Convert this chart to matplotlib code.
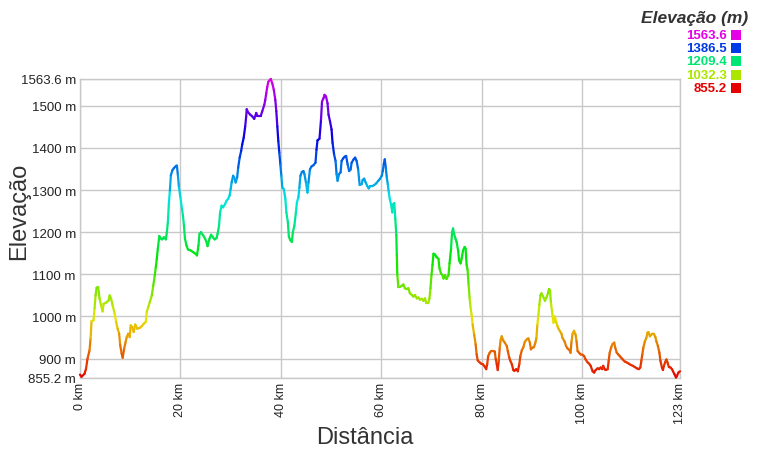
import matplotlib
matplotlib.use("Agg")
import matplotlib.pyplot as plt
import numpy as np
from matplotlib.collections import LineCollection
from matplotlib.colors import hsv_to_rgb

plt.rcParams['font.family'] = ['Liberation Sans', 'DejaVu Sans']

# ---- data (distance in km, elevation in m) ----
dist_km = [0, 0.3, 0.9, 1.2, 1.5, 1.9, 2.1, 2.3, 2.7, 2.9, 3.1, 3.3, 3.6, 3.9, 4.2, 4.5, 4.7, 5.2, 5.7, 5.9,
           6.2, 6.5, 6.9, 7.2, 7.5, 7.8, 8.0, 8.3, 8.5, 8.8, 9.1, 9.3, 9.6, 9.9, 10.1, 10.4, 10.7, 11.0, 11.4, 11.9,
           12.3, 12.7, 13.1, 13.3, 13.6, 13.9, 14.3, 14.6, 14.9, 15.1, 15.3, 15.5, 15.8, 16.1, 16.4, 16.7, 17.1, 17.3, 17.5, 17.7,
           17.9, 18.1, 18.4, 18.7, 19.1, 19.3, 19.5, 19.7, 20.0, 20.3, 20.5, 20.7, 20.9, 21.2, 21.5, 22.0, 22.5, 23.0, 23.3,
           23.6, 23.8, 24.1, 24.5, 24.9, 25.2, 25.4, 25.8, 26.1, 26.4, 26.8, 27.2, 27.4, 27.7, 27.9, 28.2, 28.5, 28.9, 29.2, 29.5,
           29.8, 30.0, 30.2, 30.5, 30.7, 31.0, 31.3, 31.5, 31.8, 32.1, 32.3, 32.6, 32.9, 33.1, 33.2, 33.5, 33.9, 34.3, 34.7, 35.1,
           35.3, 35.7, 36.0, 36.3, 36.7, 36.9, 37.1, 37.3, 37.5, 37.8, 38.0, 38.3, 38.6, 38.9, 39.1, 39.3, 39.5, 39.7, 39.9, 40.1,
           40.3, 40.6, 40.9, 41.1, 41.4, 41.6, 41.9, 42.2, 42.4, 42.7, 43.0, 43.2, 43.5, 43.7, 43.9, 44.2, 44.5, 44.7, 45.0, 45.3,
           45.5, 45.8, 46.1, 46.5, 46.9,
           47.1, 47.3, 47.7, 48.0, 48.2, 48.5, 48.7, 49.0, 49.3, 49.5, 49.8, 50.1, 50.3, 50.6, 50.9, 51.1, 51.3, 51.6, 51.9, 52.1,
           52.4, 52.7, 53.0, 53.3, 53.6, 53.9, 54.1, 54.5, 54.8, 55.1, 55.4, 55.7, 56.1, 56.3, 56.6, 56.9, 57.2, 57.5, 57.8, 58.2,
           58.6, 59.0, 59.4, 59.7, 60.1, 60.3, 60.5, 60.7, 60.9, 61.1, 61.3, 61.5, 61.7, 62.0, 62.2, 62.4, 62.6, 62.8, 63.0, 63.1,
           63.2, 63.4, 63.8, 64.1, 64.4, 64.7, 65.1, 65.4, 65.7, 66.1, 66.4, 66.7, 67.1, 67.4, 67.7, 68.1, 68.4, 68.7, 69.0, 69.4,
           69.6, 69.8, 70.0, 70.2, 70.4, 70.7,
           71.0, 71.4, 71.6, 71.9, 72.2, 72.4, 72.7, 73.0, 73.4, 73.6, 73.9, 74.1, 74.3, 74.5, 74.8, 75.0, 75.3, 75.5, 75.8, 76.0,
           76.3, 76.6, 76.8, 77.0, 77.2, 77.4, 77.6, 77.8, 78.0, 78.2, 78.5, 78.8, 79.0, 79.2, 79.6, 79.9, 80.2, 80.5, 80.9, 81.1,
           81.3, 81.6, 81.9, 82.3, 82.6, 82.8, 83.0, 83.2, 83.4, 83.6, 83.8, 84.0, 84.3, 84.6, 85.0, 85.2, 85.5, 85.7, 86.0, 86.3,
           86.5, 86.9, 87.2, 87.5, 87.7, 88.0, 88.3, 88.6, 89.0, 89.3, 89.6, 89.8, 90.1, 90.4, 90.7, 90.9, 91.1, 91.3, 91.5, 91.7,
           91.9, 92.1, 92.4, 92.6, 92.9, 93.2, 93.4, 93.6, 93.8, 94.1, 94.3,
           94.6, 94.8, 95.1, 95.3, 95.6, 95.9, 96.1, 96.5, 96.8, 97.1, 97.5, 97.7, 97.9, 98.1, 98.4, 98.7, 98.9, 99.1, 99.4, 99.7,
           100.1, 100.4, 100.7, 101.1, 101.4, 101.7, 102.1, 102.4, 102.7, 103.1, 103.4, 103.7, 104.0, 104.2, 104.5, 104.7, 105.1, 105.3, 105.5, 105.8,
           106.1, 106.4, 106.6, 106.9, 107.2, 107.5, 107.8, 108.1, 108.5, 108.9, 109.3, 109.7, 110.1, 110.5, 110.9, 111.3, 111.6, 111.8, 112.0, 112.2,
           112.5, 112.8, 113.0, 113.2, 113.5, 113.8, 114.0, 114.3, 114.6, 114.8, 115.1, 115.4, 115.6, 115.9, 116.1, 116.3, 116.6, 116.8, 117.0, 117.3,
           117.6, 117.9, 118.1, 118.4, 118.7, 118.9, 119.2, 119.5]

elev_m = [862, 857, 864, 876, 900, 920, 947, 989, 991, 1019, 1050, 1068, 1070, 1042, 1026, 1012, 1030, 1033, 1038, 1050,
          1042, 1026, 1007, 987, 971, 959, 932, 912, 902, 924, 940, 951, 959, 951, 979, 975, 963, 981, 971, 973,
          977, 983, 987, 1011, 1023, 1034, 1050, 1074, 1098, 1117, 1137, 1161, 1191, 1185, 1183, 1188, 1183, 1200, 1224, 1268,
          1299, 1335, 1347, 1352, 1357, 1358, 1335, 1307, 1283, 1256, 1240, 1216, 1185, 1169, 1159, 1157, 1153, 1149, 1145,
          1169, 1196, 1200, 1193, 1185, 1177, 1167, 1185, 1194, 1189, 1183, 1186, 1196, 1216, 1247, 1263, 1259, 1267, 1275, 1279,
          1287, 1302, 1318, 1334, 1330, 1318, 1330, 1353, 1377, 1393, 1408, 1424, 1451, 1475, 1492, 1484, 1479, 1475, 1469, 1483,
          1476, 1476, 1476, 1487, 1502, 1514, 1530, 1545, 1557, 1561, 1563.6, 1553, 1538, 1514, 1487, 1451, 1416, 1389, 1361, 1334,
          1306, 1302, 1279, 1247, 1224, 1189, 1181, 1177, 1200, 1216, 1247, 1271, 1283, 1306, 1334, 1343, 1345, 1338, 1318, 1294,
          1318, 1349, 1356, 1359, 1365,
          1396, 1418, 1422, 1467, 1510, 1518, 1526, 1522, 1506, 1479, 1463, 1444, 1412, 1385, 1369, 1338, 1322, 1338, 1342, 1369,
          1375, 1379, 1381, 1361, 1345, 1349, 1365, 1373, 1377, 1369, 1349, 1312, 1314, 1324, 1327, 1318, 1310, 1304, 1309, 1309,
          1312, 1316, 1322, 1326, 1334, 1345, 1361, 1373, 1353, 1330, 1314, 1295, 1279, 1263, 1247, 1267, 1269, 1232, 1193, 1145,
          1098, 1071, 1071, 1073, 1076, 1067, 1065, 1067, 1055, 1051, 1047, 1051, 1043, 1045, 1040, 1042, 1037, 1043, 1032, 1032,
          1043, 1067, 1098, 1122, 1149, 1147,
          1141, 1137, 1114, 1102, 1098, 1090, 1098, 1089, 1098, 1126, 1161, 1200, 1209, 1196, 1184, 1177, 1157, 1133, 1126, 1137,
          1157, 1165, 1161, 1122, 1110, 1075, 1043, 1020, 1004, 981, 957, 934, 910, 896, 891, 888, 887, 883, 875, 887,
          906, 914, 918, 918, 917, 899, 887, 873, 895, 926, 946, 953, 943, 938, 930, 918, 902, 895, 887, 873,
          871, 875, 870, 887, 906, 920, 927, 940, 946, 948, 938, 922, 926, 927, 938, 949, 981, 1004, 1028, 1050,
          1055, 1050, 1043, 1037, 1045, 1055, 1065, 1063, 1032, 1004, 985,
          1000, 988, 977, 971, 965, 959, 949, 941, 930, 924, 920, 914, 941, 959, 966, 957, 941, 918, 914, 910,
          909, 906, 898, 891, 888, 883, 870, 867, 873, 877, 875, 879, 875, 883, 875, 873, 875, 895, 914, 927,
          935, 938, 926, 914, 910, 906, 902, 898, 893, 891, 888, 885, 883, 880, 877, 875, 879, 895, 910, 926,
          941, 949, 961, 963, 953, 957, 959, 959, 951, 941, 930, 914, 895, 879, 873, 883, 893, 898, 891, 880,
          879, 875, 870, 863, 855.2, 859, 867, 870]

y_ticks = [855.2, 900, 1000, 1100, 1200, 1300, 1400, 1500, 1563.6]
y_tick_labels = ["855.2 m", "900 m", "1000 m", "1100 m", "1200 m", "1300 m", "1400 m", "1500 m", "1563.6 m"]
x_ticks = [0, 20, 40, 60, 80, 100, 119.5]
x_tick_labels = ["0 km", "20 km", "40 km", "60 km", "80 km", "100 km", "123 km"]
legend_values = [1563.6, 1386.5, 1209.4, 1032.3, 855.2]

E_MIN, E_MAX = 855.2, 1563.6


def elev_color(e):
    h = (e - E_MIN) / (E_MAX - E_MIN) * (300.0 / 360.0)
    return hsv_to_rgb((h, 1.0, 0.9))


fig = plt.figure(figsize=(7.6, 4.6), dpi=100)
ax = fig.add_axes([80 / 760, (460 - 378.5) / 460, 600 / 760, 298.5 / 460])

x = np.array(dist_km)
y = np.array(elev_m)
pts = np.column_stack([x, y]).reshape(-1, 1, 2)
segs = np.concatenate([pts[:-1], pts[1:]], axis=1)
cols = [elev_color((a + b) / 2) for a, b in zip(y[:-1], y[1:])]
lc = LineCollection(segs, colors=cols, linewidths=1.6, capstyle='round', joinstyle='round', zorder=3)
lc.set_clip_on(False)
ax.add_collection(lc)

ax.set_xlim(0, x_ticks[-1])
ax.set_ylim(E_MIN, E_MAX)
ax.set_yticks(y_ticks)
ax.set_yticklabels(y_tick_labels, fontsize=9.5, color='#222222')
ax.set_xticks(x_ticks)
ax.set_xticklabels(x_tick_labels, fontsize=9, color='#222222', rotation=90)
ax.tick_params(length=0, pad=3)
ax.grid(True, color='#c8c8c8', linewidth=1.0)
ax.set_axisbelow(True)
for s in ax.spines.values():
    s.set_color('#c8c8c8')
    s.set_linewidth(1.0)

fig.text(365 / 760, 1 - 438 / 460, "Distância", fontsize=17, color='#333333', ha='center', va='center')
fig.text(19 / 760, 1 - 211 / 460, "Elevação", fontsize=17, color='#333333', ha='center', va='center', rotation=90)

# legend
fig.text(748 / 760, 1 - 18 / 460, "Elevação (m)", fontsize=12.5, fontweight='bold', fontstyle='italic',
         color='#333333', ha='right', va='center')
row_y = 36
for v in legend_values:
    c = elev_color(v)
    fig.text(727 / 760, 1 - row_y / 460, f"{v:.1f}", fontsize=9.5, fontweight='bold', color=c,
             ha='right', va='center')
    fig.patches.append(plt.Rectangle((731 / 760, 1 - (row_y + 5) / 460), 10 / 760, 10 / 460,
                                     transform=fig.transFigure, facecolor=c, edgecolor='none', figure=fig))
    row_y += 13.2

fig.savefig("out.png", dpi=100)
